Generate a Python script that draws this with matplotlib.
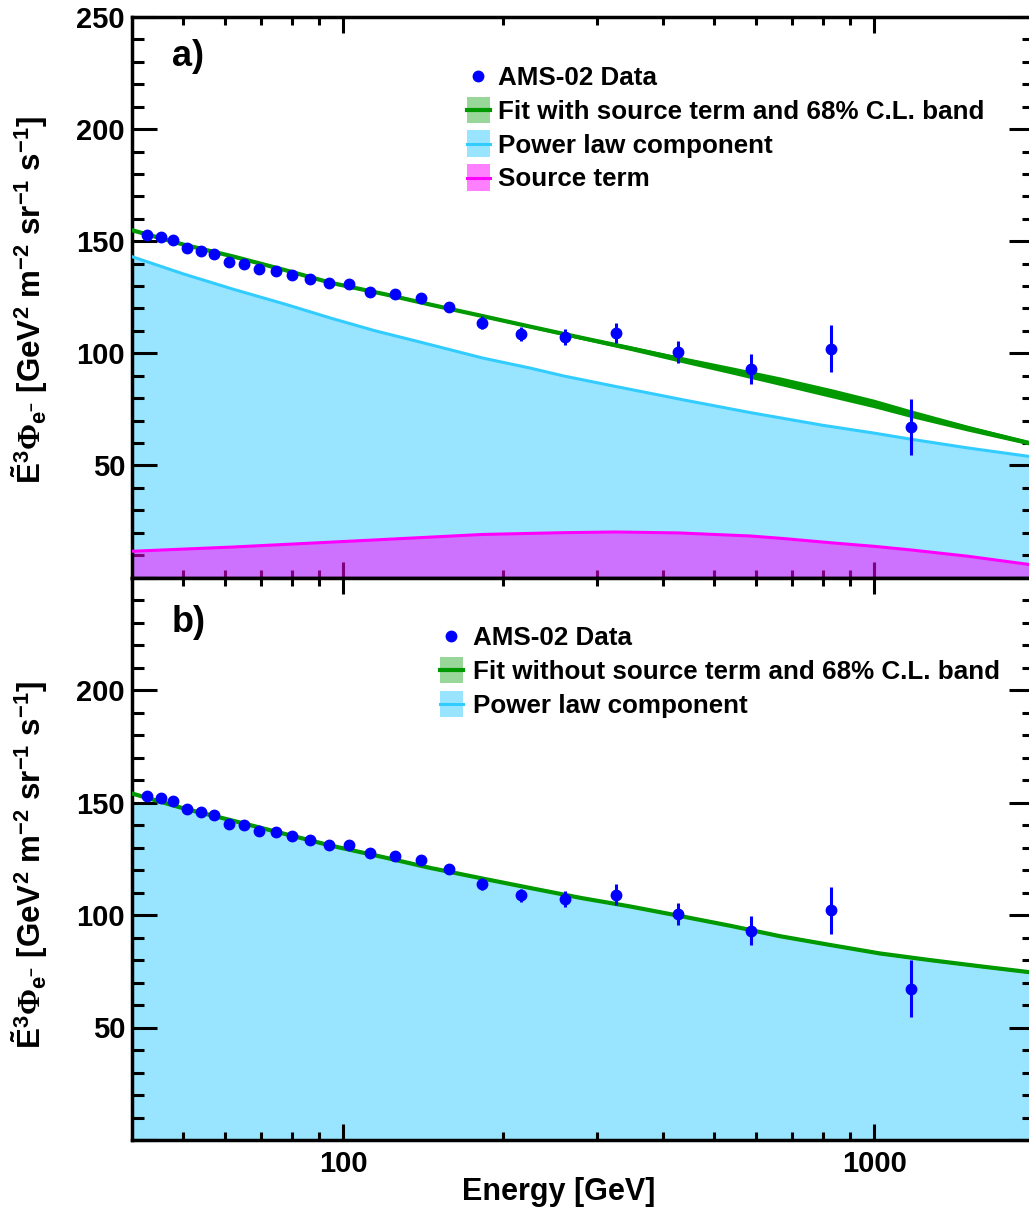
import matplotlib
matplotlib.use("Agg")
import matplotlib.pyplot as plt
import numpy as np
from matplotlib.patches import Rectangle
from matplotlib.lines import Line2D
from matplotlib.ticker import FixedLocator, NullFormatter, FixedFormatter

plt.rcParams['font.family'] = ['Liberation Sans', 'DejaVu Sans']
plt.rcParams['font.weight'] = 'bold'
plt.rcParams['mathtext.fontset'] = 'custom'
plt.rcParams['mathtext.rm'] = 'Liberation Sans:bold'
plt.rcParams['mathtext.it'] = 'Liberation Sans:bold'
plt.rcParams['mathtext.bf'] = 'Liberation Sans:bold'
plt.rcParams['mathtext.sf'] = 'Liberation Serif:bold'

# ---------------- data ----------------
energy = [42.7, 45.3, 47.8, 50.8, 53.9, 57.2, 60.9, 65.1, 69.5, 74.6, 80.2, 86.7,
          94.0, 102.3, 112.4, 124.9, 140.0, 158.5, 182.8, 215.7, 261.2, 326, 427,
          586, 828, 1172]
flux = [152.9, 151.9, 150.7, 146.9, 145.7, 144.3, 140.6, 140.0, 137.5, 136.9, 135.1,
        133.2, 131.3, 131.0, 127.5, 126.3, 124.6, 120.6, 113.7, 108.7, 107.2, 109.1,
        100.5, 93.0, 102.1, 67.2]
flux_err = [1.0, 1.0, 1.0, 1.0, 1.0, 1.0, 1.1, 1.1, 1.1, 1.2, 1.2, 1.3,
            1.3, 1.4, 1.5, 1.6, 1.8, 2.0, 2.8, 3.0, 3.5, 4.5, 5.0, 6.5, 10.4, 12.6]

# panel a: fit with source term (line and 68% C.L. half-width)
fit_a_energy = [40, 50, 62, 78, 94.5, 120, 146, 183, 225, 280, 347, 430, 536,
                670, 828, 1000, 1172, 1500, 1960]
fit_a = [154.9, 148.5, 143.2, 137.0, 131.5, 126.3, 121.7, 116.6, 111.9, 107.0,
         102.3, 97.4, 92.5, 87.4, 82.3, 77.6, 73.1, 66.6, 60.0]
fit_a_band = [0.4, 0.4, 0.4, 0.4, 0.4, 0.4, 0.4, 0.5, 0.6, 0.8, 1.0, 1.3, 1.6,
              1.9, 2.0, 1.9, 1.7, 1.3, 0.9]

powerlaw_a_energy = [40, 50, 62, 78, 95, 115, 137, 183, 225, 260, 326, 440, 586,
                     800, 1000, 1172, 1500, 1960]
powerlaw_a = [143.1, 135.4, 128.6, 121.8, 115.6, 110.0, 105.5, 97.9, 93.4, 89.9,
              85.2, 79.1, 73.5, 67.9, 64.4, 61.7, 57.8, 54.0]

source_energy = [40, 62, 103, 140, 183, 260, 326, 427, 586, 673, 828, 1000, 1172,
                 1500, 1960]
source_term = [11.7, 13.6, 16.2, 17.8, 19.2, 20.0, 20.3, 19.9, 18.5, 17.4, 15.5,
               13.9, 12.3, 9.5, 5.8]

# panel b: fit without source term
fit_b_energy = [40, 50, 62, 78, 94.5, 120, 146, 183, 225, 280, 347, 430, 536, 664,
                830, 1026, 1280, 1584, 1960]
fit_b = [154.0, 147.4, 141.9, 135.9, 130.9, 125.5, 120.9, 116.2, 112.0, 107.6,
         103.8, 99.6, 95.2, 90.6, 86.6, 82.9, 79.9, 77.2, 74.6]
fit_b_band = [0.3] * 10 + [0.4] * 5 + [0.5] * 4

powerlaw_b_energy = [40, 45.6] + fit_b_energy[2:]
powerlaw_b = [149.9, 150.3] + fit_b[2:]

y_ticks = [0, 50, 100, 150, 200, 250]
y_labels_a = ['', '50', '100', '150', '200', '250']
y_labels_b = ['', '50', '100', '150', '200', '']
x_ticks = [100, 1000]
x_labels = ['100', '1000']

legend_a = ['AMS-02 Data', 'Fit with source term and 68% C.L. band',
            'Power law component', 'Source term']
legend_b = ['AMS-02 Data', 'Fit without source term and 68% C.L. band',
            'Power law component']

ylabel = (r'$\tilde{\mathrm{E}}^{3}\mathsf{\Phi}_{\mathrm{e}^{-}}$'
          r' [GeV$^{2}$ m$^{-2}$ sr$^{-1}$ s$^{-1}$]')

# ---------------- colours ----------------
C_GREEN = '#009900'
C_GREEN_LIGHT = '#99D699'
C_CYAN = '#33CCFF'
C_CYAN_FILL = '#99E5FF'
C_MAG = '#FF00FF'
C_MAG_LIGHT = '#FF80FF'
C_BLUE = '#0000FF'

W, H = 1029, 1210
fig = plt.figure(figsize=(W / 100, H / 100), dpi=100)


def px_axes(x0, x1, y0, y1):
    return fig.add_axes([x0 / W, 1 - y1 / H, (x1 - x0) / W, (y1 - y0) / H])


ax_a = px_axes(132, 1034, 17, 577.5)
ax_b = px_axes(132, 1034, 577.5, 1140)

minor_x = [50, 60, 70, 80, 90, 200, 300, 400, 500, 600, 700, 800, 900]
minor_y = [v for v in range(0, 251, 10) if v % 50 != 0]

for ax, ylabs in ((ax_a, y_labels_a), (ax_b, y_labels_b)):
    ax.set_xscale('log')
    ax.set_xlim(40, 2000)
    ax.set_ylim(0, 250)
    ax.yaxis.set_major_locator(FixedLocator(y_ticks))
    ax.yaxis.set_major_formatter(FixedFormatter(ylabs))
    ax.yaxis.set_minor_locator(FixedLocator(minor_y))
    ax.xaxis.set_major_locator(FixedLocator(x_ticks))
    ax.xaxis.set_major_formatter(FixedFormatter(x_labels))
    ax.xaxis.set_minor_locator(FixedLocator(minor_x))
    ax.xaxis.set_minor_formatter(NullFormatter())
    ax.tick_params(axis='y', which='major', direction='in', length=18, width=2.2,
                   left=True, right=True, labelsize=21, pad=5)
    ax.tick_params(axis='y', which='minor', direction='in', length=8.6, width=2.2,
                   left=True, right=True)
    ax.tick_params(axis='x', which='major', direction='in', length=11.5, width=2.2,
                   top=True, bottom=True, labelsize=21, pad=7)
    ax.tick_params(axis='x', which='minor', direction='in', length=6, width=2.2,
                   top=True, bottom=True)
    for s in ax.spines.values():
        s.set_linewidth(2.5)
    for lab in ax.get_yticklabels() + ax.get_xticklabels():
        lab.set_fontweight('bold')

ax_a.tick_params(axis='x', which='both', labelbottom=False)

# ---- panel a ----
ax_a.fill_between(powerlaw_a_energy, 0, powerlaw_a, color=C_CYAN_FILL, lw=0, zorder=1)
ax_a.fill_between(source_energy, 0, source_term, color=C_MAG, alpha=0.5, lw=0, zorder=2)
ax_a.plot(powerlaw_a_energy, powerlaw_a, color=C_CYAN, lw=2.2, zorder=3)
ax_a.plot(source_energy, source_term, color=C_MAG, lw=2.2, zorder=3)
fa = np.array(fit_a)
ba = np.array(fit_a_band)
ax_a.fill_between(fit_a_energy, fa - ba, fa + ba, color=C_GREEN, lw=0, zorder=4)
ax_a.plot(fit_a_energy, fit_a, color=C_GREEN, lw=3, zorder=5)
ax_a.errorbar(energy, flux, yerr=flux_err, fmt='o', color=C_BLUE, ms=7.5,
              elinewidth=2.2, capsize=0, zorder=6)

# ---- panel b ----
ax_b.fill_between(powerlaw_b_energy, 0, powerlaw_b, color=C_CYAN_FILL, lw=0, zorder=1)
fb = np.array(fit_b)
bb = np.array(fit_b_band)
ax_b.fill_between(fit_b_energy, fb - bb, fb + bb, color=C_GREEN, lw=0, zorder=4)
ax_b.plot(fit_b_energy, fit_b, color=C_GREEN, lw=3, zorder=5)
ax_b.errorbar(energy, flux, yerr=flux_err, fmt='o', color=C_BLUE, ms=7.5,
              elinewidth=2.2, capsize=0, zorder=6)


# ---- legends (drawn in figure pixel coordinates) ----
def fx(x):
    return x / W


def fy(y):
    return 1 - y / H


def draw_legend(labels, marker_x, patch_x0, text_x, baselines, patch_colors, line_colors):
    for i, (lab, base) in enumerate(zip(labels, baselines)):
        yc = base - 9
        if i == 0:
            fig.add_artist(Line2D([fx(marker_x)], [fy(yc)], marker='o', ms=7.5,
                                  color=C_BLUE, transform=fig.transFigure))
        else:
            fig.add_artist(Rectangle((fx(patch_x0), fy(yc + 13)), 23 / W, 26 / H,
                                     facecolor=patch_colors[i - 1], edgecolor='none',
                                     transform=fig.transFigure))
            fig.add_artist(Line2D([fx(patch_x0), fx(patch_x0 + 23)], [fy(yc), fy(yc)],
                                  color=line_colors[i - 1], lw=3 if i == 1 else 2.2,
                                  transform=fig.transFigure))
        fig.text(fx(text_x), fy(base), lab, fontsize=18.7, fontweight='bold',
                 ha='left', va='baseline')


draw_legend(legend_a, 478, 467, 498, [85, 119, 152.5, 186.5],
            [C_GREEN_LIGHT, C_CYAN_FILL, C_MAG_LIGHT], [C_GREEN, C_CYAN, C_MAG])
draw_legend(legend_b, 451, 440, 473, [645, 679, 713],
            [C_GREEN_LIGHT, C_CYAN_FILL], [C_GREEN, C_CYAN])

# panel tags
fig.text(fx(172), fy(66), 'a)', fontsize=26, fontweight='bold', ha='left', va='baseline')
fig.text(fx(172), fy(632), 'b)', fontsize=26, fontweight='bold', ha='left', va='baseline')

# axis labels
fig.text(fx(30), fy(300), ylabel, rotation=90, fontsize=22.5, fontweight='bold',
         ha='center', va='center')
fig.text(fx(30), fy(865), ylabel, rotation=90, fontsize=22.5, fontweight='bold',
         ha='center', va='center')
fig.text(fx(559), fy(1200), 'Energy [GeV]', fontsize=22, fontweight='bold',
         ha='center', va='baseline')

fig.savefig('out.png', dpi=100)
